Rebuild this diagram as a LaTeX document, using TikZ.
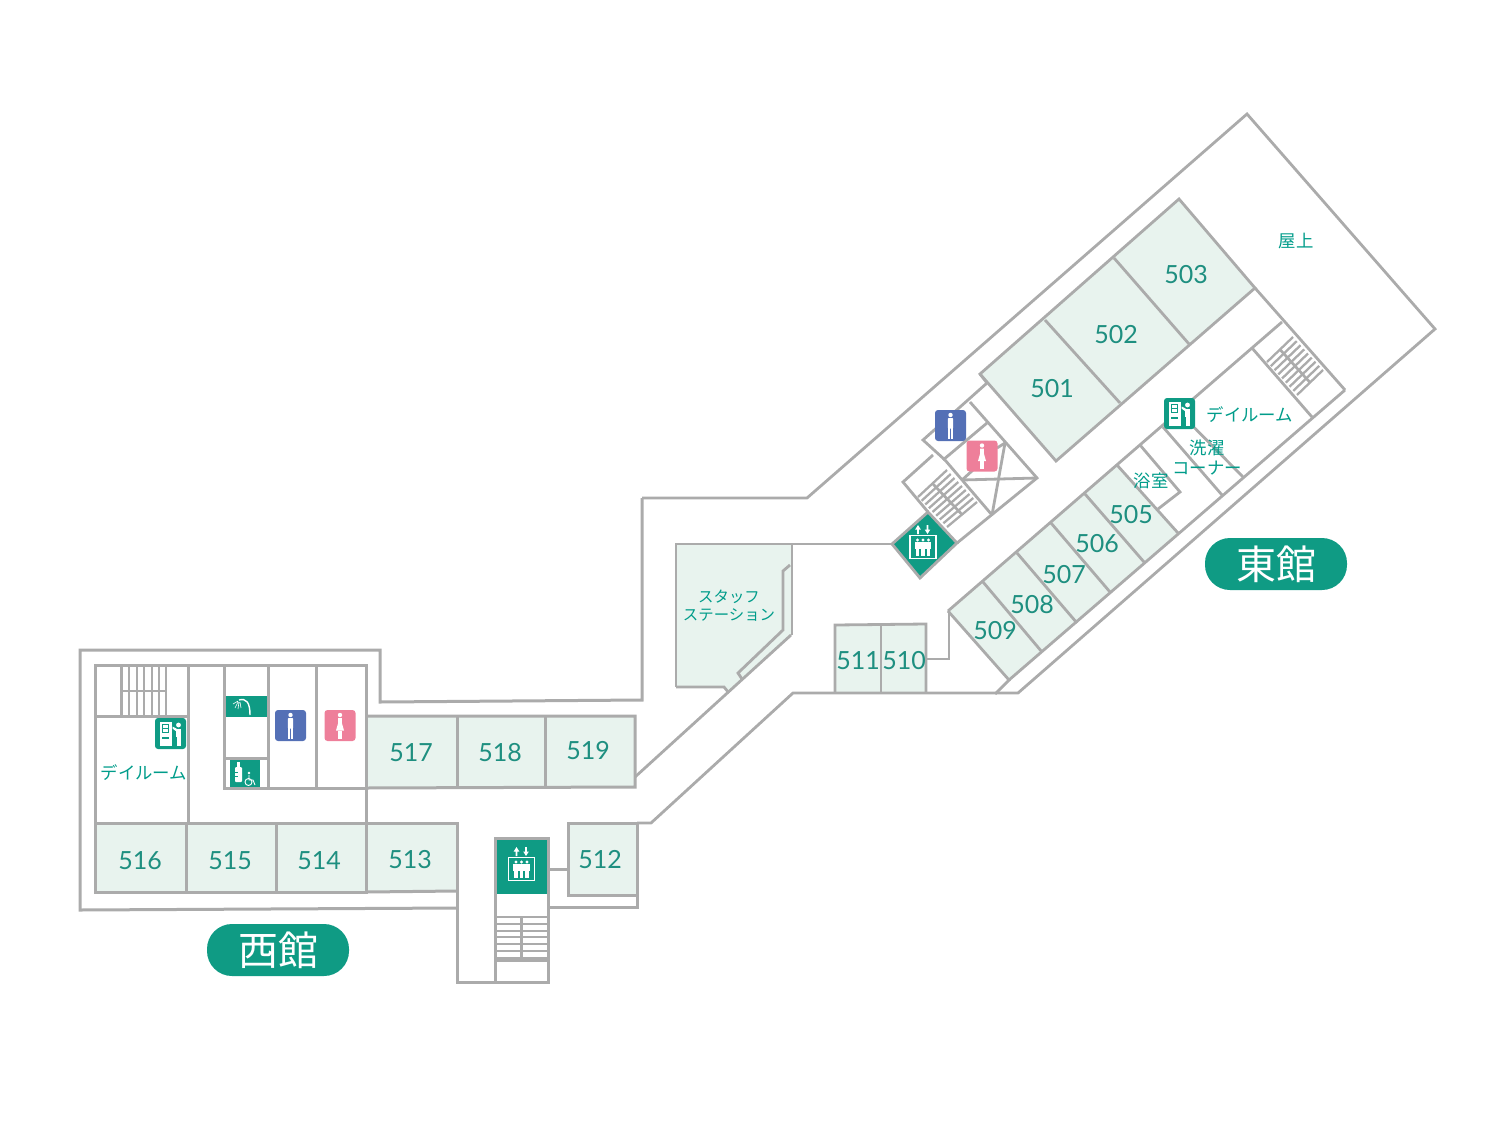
\documentclass[tikz,border=0pt]{standalone}
\usepackage{fontspec}
\usetikzlibrary{calc}
\setmainfont{Open Sans}
\newfontfamily\jpf{Noto Sans CJK JP}
\newfontfamily\numf{Lato}
\definecolor{wallc}{HTML}{ABABAB}
\definecolor{roomc}{HTML}{E8F3EE}
\definecolor{teal1}{HTML}{0F9B84}
\definecolor{jptxt}{HTML}{009C8A}
\definecolor{numtxt}{HTML}{1E8F80}
\definecolor{menc}{HTML}{5470B6}
\definecolor{womenc}{HTML}{EE7F9A}
\tikzset{
  wall/.style={draw=wallc,line width=2.8pt,line join=miter},
  thick wall/.style={draw=wallc,line width=3pt,line join=miter},
  stairline/.style={draw=wallc,line width=2.7pt},
  roomfill/.style={fill=roomc},
  num/.style={text=numtxt,font=\numf\fontsize{25}{25}\selectfont,inner sep=0pt},
  jp/.style={text=jptxt,font=\jpf\fontsize{17.4}{20}\selectfont,inner sep=0pt},
  jps/.style={text=jptxt,font=\jpf\fontsize{15.4}{18}\selectfont,inner sep=0pt},
  pilltxt/.style={text=white,font=\jpf\fontsize{40}{40}\selectfont,inner sep=0pt},
  mansign/.pic={
    \fill[menc,rounded corners=3pt] (-15.5,-15.5) rectangle (15.5,15.5);
    \fill[white] (0,-10.5) circle (2.2);
    \fill[white,rounded corners=.8pt] (-2.6,-7.5) rectangle (2.6,3);
    \fill[white] (-2.2,2) rectangle (-.4,13);
    \fill[white] (.4,2) rectangle (2.2,13);
  },
  womansign/.pic={
    \fill[womenc,rounded corners=3pt] (-15.5,-15.5) rectangle (15.5,15.5);
    \fill[white] (0,-10.5) circle (2.2);
    \fill[white] (-1.8,-7.5) -- (1.8,-7.5) -- (2,-2) -- (4,5) -- (-4,5) -- (-2,-2) -- cycle;
    \fill[white] (-1.9,5) rectangle (-.4,13);
    \fill[white] (.4,5) rectangle (1.9,13);
  },
  vendsign/.pic={
    \fill[teal1,rounded corners=3pt] (-15.5,-15.5) rectangle (15.5,15.5);
    \fill[white] (-11,-12) rectangle (1,12);
    \draw[teal1,line width=1pt] (-8,-9) rectangle (-2,-1);
    \draw[teal1,line width=.7pt] (-8,-5) -- (-2,-5);
    \fill[teal1] (-8.5,3.5) rectangle (-2,5.5);
    \fill[white] (8,-8.5) circle (2.4);
    \fill[white] (5.8,-5) rectangle (10.4,3);
    \fill[white] (6.2,2) rectangle (10,12);
    \fill[white] (6,-5) -- (6,-2) -- (2,-5) -- (2,-7) -- cycle;
  },
  elevsign/.pic={
    \draw[white,line width=1.2pt] (-13,-11.5) rectangle (13,11.5);
    \foreach \dx in {-5.5,0,5.5}{
      \fill[white] (\dx,-7) circle (1.6);
      \fill[white] (\dx-2.7,-5) rectangle (\dx+2.7,1.5);
      \fill[white] (\dx-1.9,1) rectangle (\dx+1.9,9);
    }
    \fill[white] (-5,-22) -- (-2.2,-17.5) -- (-4.2,-17.5) -- (-4.2,-13) -- (-5.8,-13) -- (-5.8,-17.5) -- (-7.8,-17.5) -- cycle;
    \fill[white] (4.5,-13) -- (7.3,-17.5) -- (5.3,-17.5) -- (5.3,-22) -- (3.7,-22) -- (3.7,-17.5) -- (1.7,-17.5) -- cycle;
  }
}
\begin{document}
\begin{tikzpicture}[x=1pt,y=-1pt]
\useasboundingbox (0,0) rectangle (1501,1127);
% room fills
\fill[roomfill] (95,823) rectangle (457,892);
\fill[roomfill] (366,716) rectangle (635,787);
\fill[roomfill] (568,823) rectangle (637,895);
\fill[roomfill] (835,625) rectangle (926,693);
\fill[roomfill] (676,544) -- (792,544) -- (792,635) -- (740,682) -- (727,693) -- (724,687) -- (676,687) -- cycle;
\fill[roomfill] (980,374) -- (1179,199) -- (1255,288) -- (1056,461) -- cycle;
\fill[roomfill] (948,611) -- (1117,465) -- (1178,533) -- (1009,680) -- cycle;
% outer walls
\draw[thick wall] (457,908) -- (80,910) -- (80,650) -- (380,650) -- (380,702) -- (642,700) -- (642,498);
\draw[wall] (642,498) -- (807,498) -- (1247,114) -- (1435,329) -- (1018,693) -- (793,693) -- (651,823) -- (637,823);
% west block
\draw[thick wall] (95,665) rectangle (366,892);
\draw[thick wall] (95,716) -- (188,716);
\draw[thick wall] (188,665) -- (188,823);
\draw[thick wall] (95,823) -- (457,823) -- (457,982) -- (495,982);
\draw[thick wall] (186,823) -- (186,892);
\draw[thick wall] (276,823) -- (276,892);
\draw[thick wall] (366,892) -- (457,891);
\draw[thick wall] (224,665) -- (224,788) -- (366,788);
\draw[thick wall] (268,665) -- (268,788);
\draw[thick wall] (316,665) -- (316,788);
\draw[thick wall] (224,758) -- (268,758);
\foreach \xx in {121.7,129,137,144,152,159,166} \draw[stairline] (\xx,665) -- (\xx,716);
\draw[stairline] (121,691) -- (166,691);
% west bath icons
\fill[teal1] (225.5,696) rectangle (266.5,717);
\draw[white,line width=1.4pt] (239,700) .. controls (246,698) and (250,702) .. (250,715);
\draw[white,line width=.6pt] (238,701) -- (233,704) (238,702) -- (235,708) (239,702) -- (238,709) (240,702) -- (241,708);
\fill[teal1] (230,760) rectangle (260,787);
\fill[white,rounded corners=1pt] (235,767) rectangle (242,782);
\fill[white] (237.2,762) rectangle (239.8,767);
\draw[teal1,line width=.7pt] (235,772) -- (237.5,772) (235,776) -- (237.5,776);
\draw[white,line width=.9pt] (248.5,782) circle (3.5);
\fill[white] (249,773) circle (1.3);
\draw[white,line width=.9pt] (249,775) -- (249,780) -- (253,780) -- (255,785);
% rooms 517-519
\draw[thick wall] (366,716) -- (635,716) -- (635,787) -- (366,788);
\draw[thick wall] (457,716) -- (457,788);
\draw[thick wall] (545,716) -- (545,787);
% corridor
\draw[wall] (635,777) -- (791,635);
\draw[wall] (676,687) -- (676,544) -- (792,544) -- (792,635);
\draw[wall] (676,687) -- (724,687) -- (729,693);
\draw[wall] (790,565) -- (783,571) -- (783,630) -- (738,673) -- (742,679);
\draw[wall] (792,544) -- (892,544);
% 510-511
\draw[wall] (835,693) -- (835,625) -- (926,624) -- (926,693);
\draw[wall] (881,625) -- (881,693);
\draw[wall] (926,659) -- (949,659) -- (949,611);
% west elevator
\fill[teal1] (495,838) rectangle (548,894);
\draw[thick wall] (495,838) rectangle (548,982);
\draw[thick wall] (548,869) -- (568,869);
\draw[thick wall] (568,823) rectangle (637,895);
\draw[thick wall] (637,823) -- (637,907) -- (548,907);
\foreach \yy in {917,924,931,937,944,951,958} \draw[stairline] (495,\yy) -- (548,\yy);
\draw[stairline] (521.7,917) -- (521.7,958);
\draw[thick wall] (495,960) -- (548,960);
\pic at (521.5,869) {elevsign};
% east rooms top
\draw[wall] (980,374) -- (1179,199) -- (1255,288) -- (1056,461) -- cycle;
\draw[wall] (1045,320) -- (1120,403);
\draw[wall] (1114,258) -- (1189,344);
% east block lower
\draw[wall] (948,611) -- (1282,322);
\draw[wall] (1009,680) -- (1345,390);
\draw[wall] (1255,288) -- (1345,390);
\draw[wall] (948,611) -- (1009,680) -- (995,694);
\draw[wall] (983,582) -- (1042,652);
\draw[wall] (1017,553) -- (1077,623);
\draw[wall] (1051,523) -- (1110,592);
\draw[wall] (1085,494) -- (1144,562);
\draw[wall] (1117,465) -- (1178,533);
\draw[wall] (1140,445) -- (1180,492) -- (1158,509);
\draw[wall] (1163,427) -- (1222,495);
\draw[wall] (1178,411) -- (1243,477);
\draw[wall] (1252,348) -- (1312,417);
% east stairs 2
\coordinate (s1) at (1267,362); \coordinate (s2) at (1293,337);
\coordinate (s3) at (1323,370); \coordinate (s4) at (1297,395);
\foreach \t in {0,.125,...,1.01} \draw[draw=wallc,line width=2.3pt] ($(s1)!\t!(s4)$) -- ($(s2)!\t!(s3)$);
\draw[stairline] ($(s1)!.5!(s2)$) -- ($(s4)!.5!(s3)$);
% core
\draw[wall] (980,374) -- (987,383) -- (923,440) -- (945,460);
\draw[wall] (970,402) -- (1037,478) -- (957,543);
\draw[wall] (987,423) -- (943,460);
\draw[wall] (933,455) -- (903,482) -- (928,512);
\draw[wall] (962,480) -- (1037,478);
\draw[wall] (945,460) -- (992,515);
\draw[wall] (1005,443) -- (992,515);
\draw[wall] (997,448) -- (1005,443);
\draw[wall] (962,480) -- (973,470);
\coordinate (t1) at (918,497); \coordinate (t2) at (947,470);
\coordinate (t3) at (977,502); \coordinate (t4) at (947,527);
\foreach \t in {0,.125,...,1.01} \draw[draw=wallc,line width=2.3pt] ($(t1)!\t!(t4)$) -- ($(t2)!\t!(t3)$);
\draw[stairline] ($(t1)!.5!(t2)$) -- ($(t4)!.5!(t3)$);
\draw[wall,fill=teal1] (928,512) -- (957,543) -- (920,578) -- (892,544) -- cycle;
\pic at (923,547) {elevsign};
% signs
\pic at (950.5,425.5) {mansign};
\pic at (982,456) {womansign};
\pic at (290.5,725.5) {mansign};
\pic at (340,725.5) {womansign};
\pic at (170.5,733.5) {vendsign};
\pic at (1179.5,413.5) {vendsign};
% pills
\node[fill=teal1,rounded corners=25pt,minimum width=142pt,minimum height=52pt,inner sep=0pt] (pillw) at (278,950) {};
\node[pilltxt] (pillwt) at (278,950) {西館};
\node[fill=teal1,rounded corners=25pt,minimum width=142pt,minimum height=52pt,inner sep=0pt] (pille) at (1276,564) {};
\node[pilltxt] (pillet) at (1276,564) {東館};
% numbers
\node[num] (r503) at (1186,275) {503};
\node[num] (r502) at (1116,335) {502};
\node[num] (r501) at (1052,389) {501};
\node[num] (r505) at (1131,515) {505};
\node[num] (r506) at (1097,544) {506};
\node[num] (r507) at (1064,575) {507};
\node[num] (r508) at (1032,605) {508};
\node[num] (r509) at (995,631) {509};
\node[num] (r510) at (904,661) {510};
\node[num] (r511) at (858,661) {511};
\node[num] (r512) at (600,860) {512};
\node[num] (r513) at (410,860) {513};
\node[num] (r514) at (319,861) {514};
\node[num] (r515) at (230,861) {515};
\node[num] (r516) at (140,861) {516};
\node[num] (r517) at (411,753) {517};
\node[num] (r518) at (500,753) {518};
\node[num] (r519) at (588,751) {519};
% japanese labels
\node[jp] (dw) at (144,773) {デイルーム};
\node[jp] (de) at (1250,415) {デイルーム};
\node[jp] (sen) at (1207,448) {洗濯};
\node[jp] (kona) at (1207,468) {コーナー};
\node[jp] (yoku) at (1151,481) {浴室};
\node[jp] (oku) at (1296,241) {屋上};
\node[jps] (st1) at (729,597) {スタッフ};
\node[jps] (st2) at (729,615) {ステーション};
\end{tikzpicture}
\end{document}
